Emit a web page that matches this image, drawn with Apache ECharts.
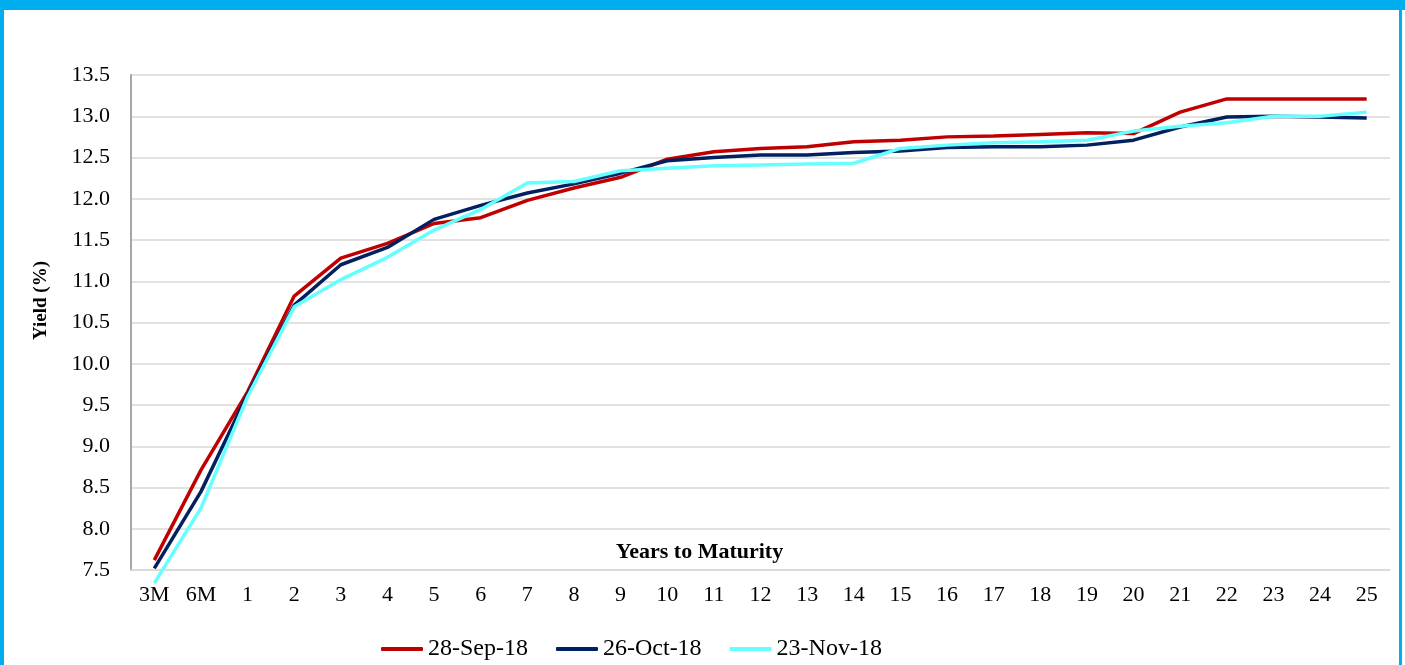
<!DOCTYPE html>
<html>
<head>
    <meta charset="utf-8">
    <title>Yield Curve</title>
    <script src="https://cdn.jsdelivr.net/npm/echarts@6/dist/echarts.min.js"></script>
    <style>
      body { margin: 0; background: #fff; }
      #main { position: absolute; left: 0; top: 0; width: 1405px; height: 665px; }
      .bar { position: absolute; background: #00AEEF; }
    </style>
</head>
<body>
    <div id="main"></div>
    <!-- blue frame round the chart -->
    <div class="bar" style="left:0;top:0;width:1405px;height:10px"></div>
    <div class="bar" style="left:0;top:0;width:4px;height:665px"></div>
    <div class="bar" style="left:1399px;top:0;width:3px;height:665px"></div>
    <script type="text/javascript">
      // maturities on the x axis
      var maturities = ['3M', '6M', '1', '2', '3', '4', '5', '6', '7', '8', '9', '10', '11', '12',
        '13', '14', '15', '16', '17', '18', '19', '20', '21', '22', '23', '24', '25'];

      // yields (%)
      var sep28 = [7.62, 8.71, 9.66, 10.82, 11.28, 11.46, 11.70, 11.77, 11.98, 12.13, 12.26, 12.48, 12.57,
        12.61, 12.63, 12.69, 12.71, 12.75, 12.76, 12.78, 12.80, 12.79, 13.05, 13.21, 13.21, 13.21, 13.21];
      var oct26 = [7.52, 8.45, 9.63, 10.71, 11.20, 11.41, 11.75, 11.92, 12.07, 12.18, 12.31, 12.46, 12.50,
        12.53, 12.53, 12.56, 12.58, 12.62, 12.63, 12.63, 12.65, 12.71, 12.87, 12.99, 13.00, 12.99, 12.98];
      var nov23 = [7.34, 8.25, 9.60, 10.69, 11.02, 11.29, 11.62, 11.87, 12.19, 12.21, 12.34, 12.37, 12.40,
        12.41, 12.42, 12.43, 12.61, 12.65, 12.68, 12.69, 12.71, 12.82, 12.88, 12.92, 13.00, 13.00, 13.05];

      var seriesNames = ['28-Sep-18', '26-Oct-18', '23-Nov-18'];
      var seriesColors = ['#C00000', '#002060', '#66FFFF'];

      var font = '"Liberation Serif", "Times New Roman", serif';

      var myChart = echarts.init(document.getElementById('main'));

      var option = {
        animation: false,
        textStyle: { fontFamily: font },
        grid: { left: 131, right: 15, top: 75, bottom: 95 },
        legend: {
          data: seriesNames,
          top: 632,
          left: 376,
          icon: 'roundRect',
          itemWidth: 42,
          itemHeight: 4,
          itemGap: 28,
          textStyle: { fontFamily: font, fontSize: 24, color: '#000' }
        },
        xAxis: {
          type: 'category',
          data: maturities,
          boundaryGap: true,
          name: 'Years to Maturity',
          nameLocation: 'middle',
          nameMoveOverlap: false,
          nameGap: -18,
          nameTextStyle: {
            fontFamily: font, fontSize: 22, fontWeight: 'bold', color: '#000',
            verticalAlign: 'middle', padding: [0, 122, 0, 0]
          },
          axisLine: { lineStyle: { color: '#d9d9d9', width: 1.5 } },
          axisTick: { show: false },
          axisLabel: { fontFamily: font, fontSize: 22, color: '#000', margin: 14, interval: 0 }
        },
        yAxis: {
          type: 'value',
          min: 7.5,
          max: 13.5,
          interval: 0.5,
          name: 'Yield (%)',
          nameLocation: 'middle',
          nameGap: 80,
          nameTextStyle: { fontFamily: font, fontSize: 19, fontWeight: 'bold', color: '#000', padding: [0, 0, 0, 44] },
          axisLine: { show: true, lineStyle: { color: '#a6a6a6', width: 2 } },
          axisTick: { show: false },
          axisLabel: {
            fontFamily: font, fontSize: 22, color: '#000', margin: 21,
            formatter: function (v) { return v.toFixed(1); }
          },
          splitLine: { lineStyle: { color: '#d9d9d9', width: 1.5 } }
        },
        series: [sep28, oct26, nov23].map(function (vals, i) {
          return {
            name: seriesNames[i],
            type: 'line',
            data: vals,
            symbol: 'none',
            clip: false,
            itemStyle: { color: seriesColors[i] },
            lineStyle: { color: seriesColors[i], width: 3.5 }
          };
        })
      };

      myChart.setOption(option);
    </script>
</body>
</html>
